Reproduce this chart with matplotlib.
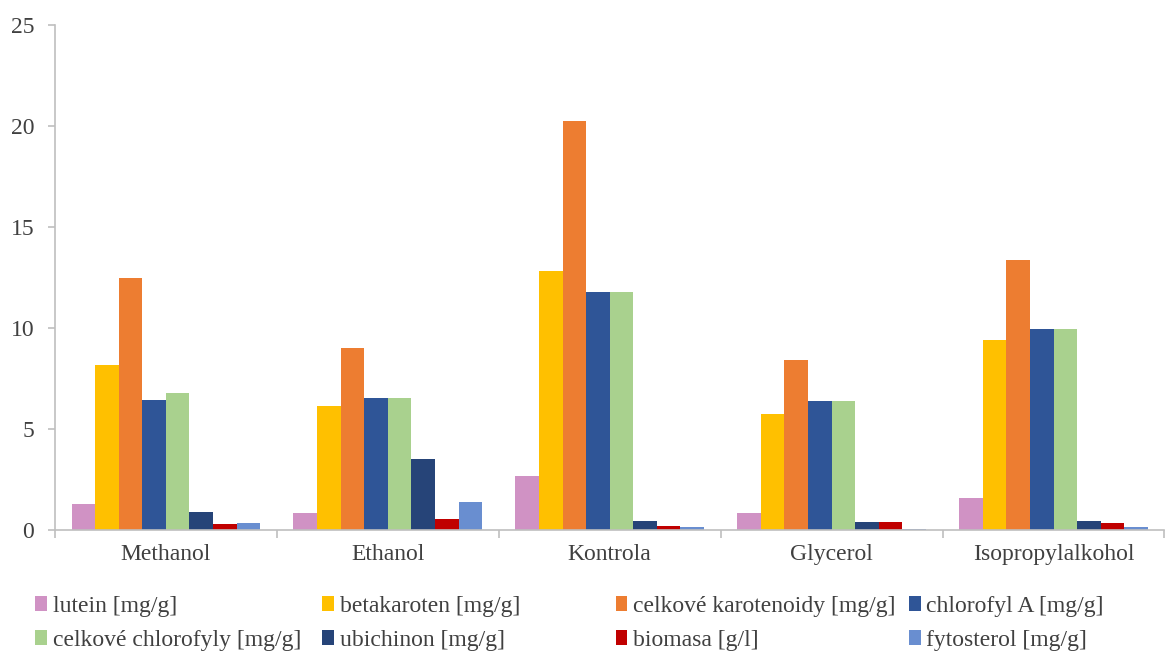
import numpy as np
import matplotlib.pyplot as plt

plt.rcParams['font.family'] = ['Liberation Serif', 'DejaVu Serif']

# categories and series
categories = ['Methanol', 'Ethanol', 'Kontrola', 'Glycerol', 'Isopropylalkohol']
series_names = ['lutein [mg/g]', 'betakaroten [mg/g]', 'celkové karotenoidy [mg/g]',
                'chlorofyl A [mg/g]', 'celkové chlorofyly [mg/g]', 'ubichinon [mg/g]',
                'biomasa [g/l]', 'fytosterol [mg/g]']
lutein = [1.32, 0.85, 2.7, 0.83, 1.6]
betakaroten = [8.15, 6.15, 12.8, 5.75, 9.4]
celk_karotenoidy = [12.5, 9.0, 20.25, 8.4, 13.35]
chlorofyl_a = [6.45, 6.55, 11.8, 6.4, 9.95]
celk_chlorofyly = [6.8, 6.55, 11.8, 6.4, 9.95]
ubichinon = [0.88, 3.5, 0.45, 0.42, 0.46]
biomasa = [0.3, 0.58, 0.23, 0.42, 0.36]
fytosterol = [0.36, 1.4, 0.17, 0.08, 0.15]
colors = ['#D092C4', '#FFC000', '#ED7D31', '#2F5597', '#A9D18E', '#264478', '#C00000', '#698ED0']

values = [lutein, betakaroten, celk_karotenoidy, chlorofyl_a, celk_chlorofyly,
          ubichinon, biomasa, fytosterol]

fig = plt.figure(figsize=(11.68, 6.53), dpi=100)
ax = fig.add_axes([0.047, 0.188, 0.95, 0.774])

x = np.arange(len(categories))
n = len(values)
width = 0.85 / n
bars = []
for i, (vals, name, col) in enumerate(zip(values, series_names, colors)):
    offset = (i - (n - 1) / 2) * width
    b = ax.bar(x + offset, vals, width, color=col, label=name)
    bars.append(b)

ax.set_xlim(-0.5, len(categories) - 0.5)
ax.set_ylim(0, 25)
ax.set_yticks([0, 5, 10, 15, 20, 25])
ax.set_xticks(x)
ax.set_xticklabels(categories)
ax.set_xticks(np.arange(len(categories) + 1) - 0.5, minor=True)
ax.tick_params(axis='x', which='major', length=0, pad=10, labelsize=17, labelcolor='#404040')
ax.tick_params(axis='x', which='minor', length=6, color='#BFBFBF', width=1.2)
ax.tick_params(axis='y', length=5, color='#BFBFBF', width=1.2, pad=10,
               labelsize=17, labelcolor='#404040')
for s in ['top', 'right']:
    ax.spines[s].set_visible(False)
ax.spines['left'].set_color('#BFBFBF')
ax.spines['bottom'].set_color('#BFBFBF')
ax.spines['left'].set_linewidth(1.2)
ax.spines['bottom'].set_linewidth(1.2)

# legend laid out in 4 evenly spaced columns, row-major order
col_x = [0.030, 0.276, 0.527, 0.778]
for c in range(4):
    leg = fig.legend([bars[c], bars[c + 4]], [series_names[c], series_names[c + 4]],
                     loc='upper left', bbox_to_anchor=(col_x[c], 0.088),
                     frameon=False, fontsize=17, handlelength=0.5, handleheight=0.6,
                     handletextpad=0.25, labelspacing=0.55, borderaxespad=0,
                     borderpad=0)
    for t in leg.get_texts():
        t.set_color('#404040')

fig.savefig('out.png', dpi=100)
